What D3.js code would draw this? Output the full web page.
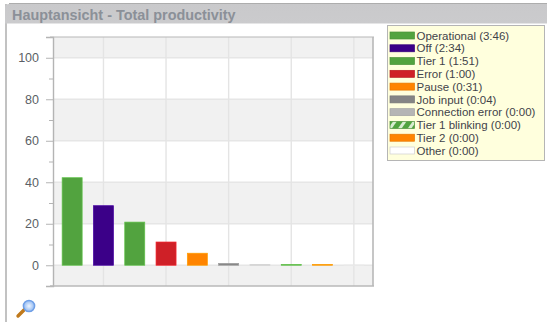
<!DOCTYPE html>
<html>
<head>
<meta charset="utf-8">
<script src="https://cdn.jsdelivr.net/npm/d3@7"></script>
<style>
  html, body { margin: 0; padding: 0; background: #fff; overflow: hidden; }
  text { font-family: "Liberation Sans", Arial, sans-serif; }
</style>
</head>
<body>
<svg id="chart" width="547" height="322"></svg>
<script>
var titleText = "Hauptansicht - Total productivity";
var categories = ["Operational", "Off", "Tier 1", "Error", "Pause", "Job input", "Connection error", "Tier 1 blinking", "Tier 2", "Other"];
var durations = ["3:46", "2:34", "1:51", "1:00", "0:31", "0:04", "0:00", "0:00", "0:00", "0:00"];
var values = [42.2, 28.7, 20.8, 11.2, 5.8, 0.9, 0.4, 0.4, 0.4, 0.1];
var colors = ["#52a33f", "#3b0088", "#52a33f", "#cf2027", "#ff8400", "#858585", "#b5b5b5", "#52a33f", "#ff8400", "#ffffff"];
var yTicks = [0, 20, 40, 60, 80, 100];
var gridCategories = ["Off", "Error", "Job input", "Tier 1 blinking", "Other"];

var margin = {top: 37, right: 174, bottom: 36, left: 53};
var width = 547, height = 322;

var svg = d3.select("#chart");
var defs = svg.append("defs");

var grad = defs.append("linearGradient")
  .attr("id", "titleGrad")
  .attr("x1", 0).attr("y1", 0).attr("x2", 0).attr("y2", 1);
grad.append("stop").attr("offset", "0%").attr("stop-color", "#c9c9cb");
grad.append("stop").attr("offset", "100%").attr("stop-color", "#cbcbcd");

var stripes = defs.append("pattern")
  .attr("id", "blink")
  .attr("width", 8).attr("height", 8)
  .attr("patternUnits", "userSpaceOnUse")
  .attr("patternTransform", "rotate(35)");
stripes.append("rect").attr("width", 8).attr("height", 8).attr("fill", "#52a33f");
stripes.append("rect").attr("width", 3).attr("height", 8).attr("fill", "#d8ecd0");

var lensGrad = defs.append("radialGradient").attr("id", "lens");
lensGrad.append("stop").attr("offset", "0%").attr("stop-color", "#eef5ff");
lensGrad.append("stop").attr("offset", "100%").attr("stop-color", "#8fb8f2");

// panel frame
svg.append("rect")
  .attr("x", 5).attr("y", 4)
  .attr("width", 2).attr("height", height - 4)
  .attr("fill", "#c2c2c2");
svg.append("path")
  .attr("d", "M5,23.5 V8 Q5,4 9,4 H" + width + " V23.5 Z")
  .attr("fill", "url(#titleGrad)");
svg.append("line")
  .attr("x1", 9).attr("x2", width)
  .attr("y1", 3.5).attr("y2", 3.5)
  .attr("stroke", "#adadad");
svg.append("text")
  .attr("x", 12).attr("y", 20)
  .attr("font-size", 14.4).attr("font-weight", "bold")
  .attr("fill", "#8b9098")
  .text(titleText);

// scales
var x = d3.scaleBand()
  .domain(categories)
  .range([margin.left + 3.5, width - margin.right - 3.5])
  .paddingInner(0.36)
  .paddingOuter(0.18);

var y = d3.scaleLinear()
  .domain([-10, 110])
  .range([height - margin.bottom, margin.top]);

var plotRight = width - margin.right;

var g = svg.append("g");

// stripes
var stripeStarts = [-10, 20, 60, 100];
var stripeEnds = [0, 40, 80, 110];
g.selectAll("rect.stripe")
  .data(stripeStarts)
  .enter()
  .append("rect")
  .attr("class", "stripe")
  .attr("x", margin.left)
  .attr("width", plotRight - margin.left)
  .attr("y", function(d, i) { return y(stripeEnds[i]); })
  .attr("height", function(d, i) { return y(d) - y(stripeEnds[i]); })
  .attr("fill", "#f1f1f1");

// grid
g.selectAll("line.hgrid")
  .data(yTicks)
  .enter()
  .append("line")
  .attr("class", "hgrid")
  .attr("x1", margin.left).attr("x2", plotRight)
  .attr("y1", function(d) { return y(d); })
  .attr("y2", function(d) { return y(d); })
  .attr("stroke", "#e6e6e6")
  .attr("stroke-width", 1.4);

g.selectAll("line.vgrid")
  .data(gridCategories)
  .enter()
  .append("line")
  .attr("class", "vgrid")
  .attr("x1", function(d) { return x(d) + x.bandwidth() / 2; })
  .attr("x2", function(d) { return x(d) + x.bandwidth() / 2; })
  .attr("y1", margin.top).attr("y2", height - margin.bottom)
  .attr("stroke", "#e4e4e4")
  .attr("stroke-width", 1.4);

// bars
g.selectAll("rect.bar")
  .data(categories)
  .enter()
  .append("rect")
  .attr("class", "bar")
  .attr("x", function(d) { return x(d); })
  .attr("width", x.bandwidth())
  .attr("y", function(d, i) { return y(values[i]); })
  .attr("height", function(d, i) { return y(0) - y(values[i]); })
  .attr("fill", function(d, i) { return colors[i]; })
  .attr("stroke", function(d, i) { return i == 9 ? "#e8e8e8" : d3.color(colors[i]).brighter(0.5); })
  .attr("stroke-width", 0.7);

// y axis
var yAxis = d3.axisLeft(y)
  .tickValues(d3.range(-10, 111, 10))
  .tickSize(7)
  .tickPadding(7)
  .tickFormat(function(d) { return yTicks.indexOf(d) >= 0 ? d : ""; });

var yG = svg.append("g")
  .attr("transform", "translate(" + margin.left + ",0)")
  .call(yAxis);
yG.select(".domain").attr("stroke", "#b4b4b4").attr("stroke-width", 1.4);
yG.selectAll(".tick line")
  .attr("stroke", "#b4b4b4")
  .attr("x2", function(d) { return yTicks.indexOf(d) >= 0 ? -7 : -4; });
yG.selectAll(".tick text")
  .attr("font-size", 12.5)
  .attr("font-family", "Liberation Sans, Arial, sans-serif")
  .attr("fill", "#5b5f66");

// plot frame
svg.append("line")
  .attr("x1", margin.left - 3).attr("x2", plotRight + 1)
  .attr("y1", margin.top).attr("y2", margin.top)
  .attr("stroke", "#b8b8b8").attr("stroke-width", 1.2);
svg.append("line")
  .attr("x1", margin.left - 3).attr("x2", plotRight + 1)
  .attr("y1", height - margin.bottom).attr("y2", height - margin.bottom)
  .attr("stroke", "#b8b8b8").attr("stroke-width", 1.6);
svg.append("line")
  .attr("x1", plotRight).attr("x2", plotRight)
  .attr("y1", margin.top).attr("y2", height - margin.bottom)
  .attr("stroke", "#b8b8b8").attr("stroke-width", 1.6);

// legend
var legendY = d3.scalePoint()
  .domain(categories)
  .range([35.5, 150.5]);

svg.append("rect")
  .attr("x", 387.5).attr("y", 25.5)
  .attr("width", 157).attr("height", 135)
  .attr("fill", "#ffffdd")
  .attr("stroke", "#b5b5b5");

var rows = svg.selectAll("g.legendRow")
  .data(categories)
  .enter()
  .append("g")
  .attr("class", "legendRow")
  .attr("transform", function(d) { return "translate(0," + legendY(d) + ")"; });

rows.append("rect")
  .attr("x", 390).attr("y", -3.5)
  .attr("width", 24.5).attr("height", 7)
  .attr("fill", function(d, i) { return d == "Tier 1 blinking" ? "url(#blink)" : colors[i]; })
  .attr("stroke", function(d, i) { return i == 9 ? "#cfcfcf" : d3.color(colors[i]).darker(0.3); })
  .attr("stroke-width", 0.7);

rows.append("text")
  .attr("x", 416.5).attr("y", 4.2)
  .attr("font-size", 11.5)
  .attr("fill", "#3f434a")
  .text(function(d, i) { return d + " (" + durations[i] + ")"; });

// zoom icon
var icon = svg.append("g");
icon.append("line")
  .attr("x1", 18).attr("y1", 316).attr("x2", 25).attr("y2", 309)
  .attr("stroke", "#c07a1c").attr("stroke-width", 3.4).attr("stroke-linecap", "round");
icon.append("circle")
  .attr("cx", 29).attr("cy", 306).attr("r", 5.6)
  .attr("fill", "url(#lens)")
  .attr("stroke", "#6f9fe6").attr("stroke-width", 1.5);
</script>
</body>
</html>
